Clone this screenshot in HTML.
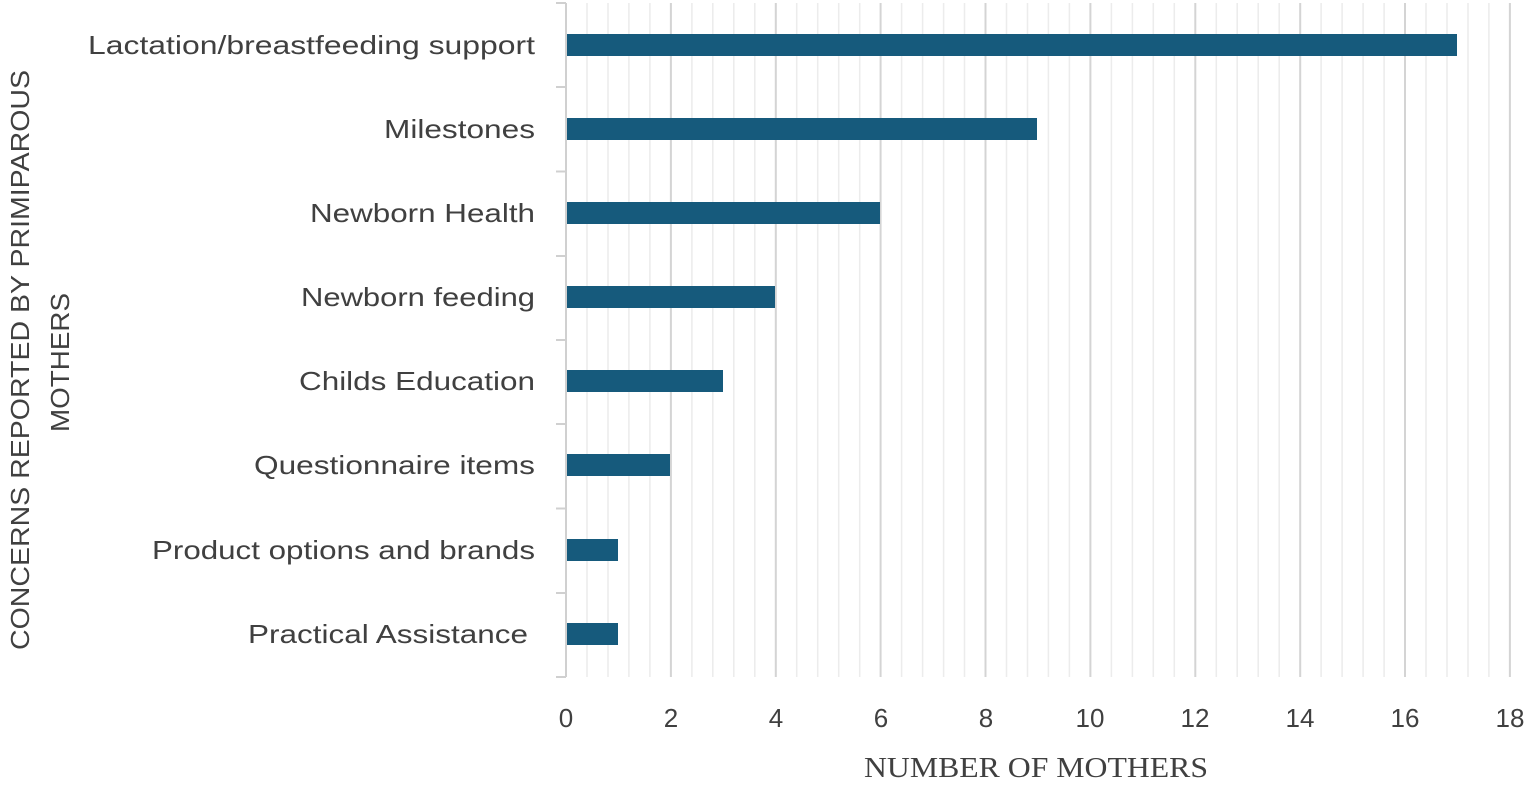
<!DOCTYPE html>
<html><head><style>html,body{margin:0;padding:0;background:#fff}svg{display:block}</style></head>
<body>
<svg width="1535" height="786" xmlns="http://www.w3.org/2000/svg">
<path stroke="#ececec" stroke-width="1.5" fill="none" d="M587,3V677M608,3V677M628.9,3V677M649.9,3V677M691.9,3V677M712.8,3V677M733.8,3V677M754.8,3V677M796.7,3V677M817.7,3V677M838.7,3V677M859.7,3V677M901.6,3V677M922.6,3V677M943.6,3V677M964.5,3V677M1006.5,3V677M1027.5,3V677M1048.4,3V677M1069.4,3V677M1111.4,3V677M1132.4,3V677M1153.3,3V677M1174.3,3V677M1216.3,3V677M1237.2,3V677M1258.2,3V677M1279.2,3V677M1321.1,3V677M1342.1,3V677M1363.1,3V677M1384.1,3V677M1426,3V677M1447,3V677M1468,3V677M1488.9,3V677"/>
<path stroke="#d4d4d4" stroke-width="2" fill="none" d="M670.9,3V677M775.8,3V677M880.6,3V677M985.5,3V677M1090.4,3V677M1195.3,3V677M1300.2,3V677M1405,3V677M1509.9,3V677"/>
<line x1="566" y1="3" x2="566" y2="677" stroke="#d0d0d0" stroke-width="2"/>
<g stroke="#d0d0d0" stroke-width="2">
<line x1="556" y1="3" x2="566" y2="3"/><line x1="556" y1="87" x2="566" y2="87"/><line x1="556" y1="171.5" x2="566" y2="171.5"/><line x1="556" y1="256" x2="566" y2="256"/><line x1="556" y1="340" x2="566" y2="340"/><line x1="556" y1="424" x2="566" y2="424"/><line x1="556" y1="508.5" x2="566" y2="508.5"/><line x1="556" y1="593" x2="566" y2="593"/><line x1="556" y1="677" x2="566" y2="677"/>
</g>
<g fill="#165a7c">
<rect x="567" y="34" width="890" height="22"/>
<rect x="567" y="118" width="470" height="22"/>
<rect x="567" y="202" width="313" height="22"/>
<rect x="567" y="286" width="208" height="22"/>
<rect x="567" y="370" width="156" height="22"/>
<rect x="567" y="454" width="103" height="22"/>
<rect x="567" y="539" width="51" height="22"/>
<rect x="567" y="623" width="51" height="22"/>
</g>
<g font-family="Liberation Sans, sans-serif" font-size="26" fill="#404040" lengthAdjust="spacingAndGlyphs">
<text x="88" y="54" textLength="447" lengthAdjust="spacingAndGlyphs">Lactation/breastfeeding support</text>
<text x="384" y="138" textLength="151" lengthAdjust="spacingAndGlyphs">Milestones</text>
<text x="310" y="222" textLength="225" lengthAdjust="spacingAndGlyphs">Newborn Health</text>
<text x="301" y="306" textLength="234" lengthAdjust="spacingAndGlyphs">Newborn feeding</text>
<text x="299" y="390" textLength="236" lengthAdjust="spacingAndGlyphs">Childs Education</text>
<text x="254" y="474" textLength="281" lengthAdjust="spacingAndGlyphs">Questionnaire items</text>
<text x="152" y="559" textLength="383" lengthAdjust="spacingAndGlyphs">Product options and brands</text>
<text x="248" y="643" textLength="280" lengthAdjust="spacingAndGlyphs">Practical Assistance</text>
</g>
<g font-family="Liberation Sans, sans-serif" font-size="26" fill="#404040" text-anchor="middle">
<text x="566" y="727">0</text><text x="671" y="727">2</text><text x="776" y="727">4</text><text x="881" y="727">6</text><text x="986" y="727">8</text><text x="1090" y="727">10</text><text x="1195" y="727">12</text><text x="1300" y="727">14</text><text x="1405" y="727">16</text><text x="1510" y="727">18</text>
</g>
<text x="864" y="777" font-family="Liberation Serif, serif" font-size="28" fill="#404040" textLength="344" lengthAdjust="spacingAndGlyphs">NUMBER OF MOTHERS</text>
<g font-family="Liberation Sans, sans-serif" font-size="26" fill="#404040">
<text transform="translate(29,650) rotate(-90)" textLength="580" lengthAdjust="spacingAndGlyphs">CONCERNS REPORTED BY PRIMIPAROUS</text>
<text transform="translate(69,432) rotate(-90)" textLength="139" lengthAdjust="spacingAndGlyphs">MOTHERS</text>
</g>
</svg>
</body></html>
